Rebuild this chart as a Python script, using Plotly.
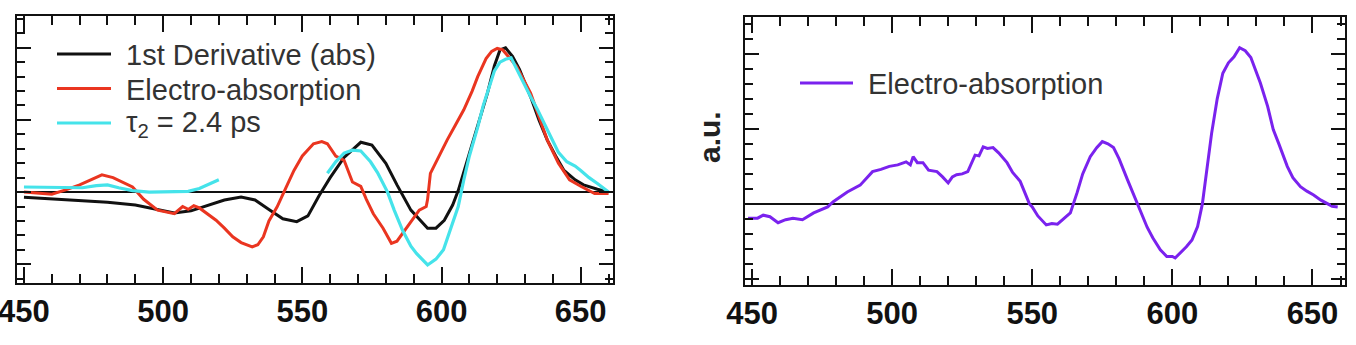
import plotly.graph_objects as go

# ---- data ----
deriv_x = [450, 460, 470, 480, 490, 497, 504, 510, 516, 522, 528, 533, 538, 543, 548, 552, 556, 560, 565, 571, 575,
           580, 584, 589, 595, 598, 601, 604, 606, 610, 613, 616.5, 619, 621, 623, 625.5, 628, 632, 635, 638, 641,
           644, 648, 651, 656, 660]
deriv_y = [-0.07, -0.09, -0.11, -0.14, -0.18, -0.24, -0.29, -0.26, -0.19, -0.11, -0.07, -0.11, -0.24, -0.37, -0.41,
           -0.33, -0.05, 0.2, 0.48, 0.69, 0.65, 0.4, 0.1, -0.25, -0.5, -0.5, -0.39, -0.18, 0.02, 0.54, 0.95, 1.37,
           1.75, 1.97, 2.0, 1.88, 1.7, 1.32, 1.0, 0.72, 0.5, 0.3, 0.17, 0.1, 0.04, 0.0]

ea_x = [450, 455, 460, 465, 470, 474, 478, 482, 486, 489, 493, 498, 504, 507, 509, 511, 513, 516, 519, 522, 525, 528,
        532, 534, 536, 538, 541, 544, 547, 550, 554, 557, 559, 562, 565, 568, 571, 573, 575.5, 579, 582, 584, 586,
        589, 592, 594.5, 595, 596, 599, 602, 605, 608, 611, 613, 616, 618, 620, 622, 624, 627, 632, 635, 638, 642,
        646, 650, 655, 660]
ea_y = [0.0, -0.02, -0.03, 0.03, 0.1, 0.17, 0.24, 0.2, 0.13, 0.07, -0.1, -0.25, -0.3, -0.2, -0.24, -0.19, -0.22,
        -0.3, -0.39, -0.5, -0.62, -0.7, -0.76, -0.73, -0.62, -0.4, -0.2, 0.05, 0.3, 0.5, 0.67, 0.7, 0.67, 0.5, 0.44,
        0.14, 0.08, -0.1, -0.3, -0.5, -0.71, -0.68, -0.57, -0.42, -0.25, -0.2, -0.1, 0.26, 0.5, 0.72, 0.93, 1.14,
        1.4, 1.6, 1.85, 1.95, 1.99, 1.97, 1.88, 1.74, 1.37, 1.05, 0.72, 0.4, 0.17, 0.08, -0.02, -0.02]

tau_x = [450, 455, 460, 465, 471, 476, 480, 484, 489, 495, 501, 505, 509, 513, 516, 520, None,
         559, 562, 565, 568, 571, 574.5, 577, 580.6, 583, 586, 589, 591, 595, 598, 600.7, 603, 606, 608, 610, 613,
         615, 617.6, 619, 621, 623, 625, 627, 629.5, 632, 634.5, 637, 640, 642, 645, 648, 650, 653, 656, 660]
tau_y = [0.07, 0.07, 0.06, 0.06, 0.06, 0.09, 0.1, 0.06, 0.02, 0.0, 0.0, 0.0, 0.01, 0.05, 0.1, 0.17, None,
         0.26, 0.42, 0.54, 0.58, 0.57, 0.42, 0.27, 0.0, -0.25, -0.53, -0.75, -0.85, -1.01, -0.93, -0.8, -0.55, -0.2,
         0.17, 0.5, 0.9, 1.2, 1.51, 1.68, 1.8, 1.84, 1.86, 1.7, 1.51, 1.32, 1.14, 0.95, 0.72, 0.55, 0.42, 0.36, 0.3,
         0.2, 0.12, 0.0]

ea2_x = [448.6, 452, 454, 456.4, 459.3, 462, 464.6, 468, 472, 477, 479, 484, 488.6, 493, 496, 499, 502, 505, 506.5,
         507.5, 509, 511, 513, 516, 518, 520, 521.5, 523, 525, 527, 529.6, 531, 532.5, 534, 536, 538, 541, 543,
         545.7, 549, 550, 552, 555, 557, 559, 561, 563.6, 566, 568, 570.7, 573, 575, 577, 579, 581, 584, 587.5,
         591, 593, 595.7, 598, 600, 601, 603, 605, 607, 609, 610.7, 612, 614, 616, 618, 620, 622, 624, 626, 628,
         629.5, 631.4, 634, 636, 638, 641, 643, 645.7, 648, 650.4, 653, 655.4, 657, 659]
ea2_y = [-0.19, -0.19, -0.15, -0.17, -0.25, -0.21, -0.19, -0.21, -0.12, -0.04, 0.03, 0.16, 0.25, 0.43, 0.46, 0.5,
         0.52, 0.56, 0.52, 0.63, 0.55, 0.55, 0.45, 0.43, 0.36, 0.28, 0.36, 0.39, 0.4, 0.43, 0.65, 0.64, 0.76, 0.74,
         0.75, 0.68, 0.55, 0.42, 0.3, 0.0, -0.04, -0.16, -0.28, -0.26, -0.27, -0.2, -0.12, 0.15, 0.4, 0.63, 0.75,
         0.83, 0.8, 0.75, 0.6, 0.32, 0.0, -0.31, -0.45, -0.61, -0.7, -0.7, -0.72, -0.65, -0.57, -0.48, -0.3, 0.0,
         0.4, 0.94, 1.4, 1.74, 1.88, 1.96, 2.08, 2.04, 1.95, 1.8, 1.61, 1.3, 0.99, 0.8, 0.5, 0.35, 0.23, 0.17, 0.12,
         0.05, 0.0, -0.03, -0.04]

x_ticks = [450, 500, 550, 600, 650]
legend_left = ["1st Derivative (abs)", "Electro-absorption", "τ<sub>2</sub> = 2.4 ps"]
legend_right = ["Electro-absorption"]

BLACK = "#111111"
RED = "#ea3520"
CYAN = "#45e3ea"
PURPLE = "#7a22ee"
FONT = "Liberation Sans, Arial, Helvetica"

W, H = 1356, 345

fig = go.Figure()
fig.add_trace(go.Scatter(x=deriv_x, y=deriv_y, mode="lines", line=dict(color=BLACK, width=3), xaxis="x", yaxis="y"))
fig.add_trace(go.Scatter(x=ea_x, y=ea_y, mode="lines", line=dict(color=RED, width=3), xaxis="x", yaxis="y"))
fig.add_trace(go.Scatter(x=tau_x, y=tau_y, mode="lines", line=dict(color=CYAN, width=3.2), connectgaps=False,
                         xaxis="x", yaxis="y"))
fig.add_trace(go.Scatter(x=ea2_x, y=ea2_y, mode="lines", line=dict(color=PURPLE, width=3), xaxis="x2", yaxis="y2"))

def xax(domain, anchor):
    return dict(domain=domain, anchor=anchor, range=[447.5, 661.6], tickvals=x_ticks, automargin=False,
                ticktext=[str(v) for v in x_ticks], ticks="inside", ticklen=16, tickwidth=2, tickcolor=BLACK,
                minor=dict(dtick=10, tick0=450, ticks="inside", ticklen=9, tickwidth=2, tickcolor=BLACK),
                showline=True, linewidth=2, linecolor=BLACK, mirror="ticks", showgrid=False, zeroline=False,
                ticklabelstandoff=0, ticklabeloverflow="allow",
                tickfont=dict(family=FONT, size=31, color=BLACK, weight="bold"))

def yax(domain, anchor, rng):
    return dict(domain=domain, anchor=anchor, range=rng, dtick=1, tick0=0, ticks="inside", ticklen=14,
                tickwidth=2, tickcolor=BLACK, showticklabels=False, automargin=False,
                minor=dict(dtick=0.2, tick0=0, ticks="inside", ticklen=8, tickwidth=2, tickcolor=BLACK),
                showline=True, linewidth=2, linecolor=BLACK, mirror="ticks", showgrid=False,
                zeroline=True, zerolinecolor=BLACK, zerolinewidth=2)

fig.update_layout(
    width=W, height=H, margin=dict(l=0, r=0, t=0, b=0, autoexpand=False),
    paper_bgcolor="white", plot_bgcolor="white", showlegend=False,
    xaxis=xax([17 / W, 613 / W], "y"),
    yaxis=yax([1 - 283 / H, 1 - 16 / H], "x", [-1.26, 2.44]),
    xaxis2=xax([745 / W, 1345 / W], "y2"),
    yaxis2=yax([1 - 285 / H, 1 - 17 / H], "x2", [-1.08, 2.49]),
)

# legends drawn as paper-positioned lines and text
shapes = []
annotations = []
for i, (lbl, col) in enumerate(zip(legend_left, [BLACK, RED, CYAN])):
    py = 54 + 34.5 * i
    shapes.append(dict(type="line", xref="paper", yref="paper", x0=57 / W, x1=111 / W, y0=1 - py / H,
                       y1=1 - py / H, line=dict(color=col, width=3)))
    annotations.append(dict(text=lbl, xref="paper", yref="paper", x=124 / W, y=1 - (py + 1) / H,
                            xanchor="left", yanchor="middle", showarrow=False,
                            font=dict(family=FONT, size=29, color="#333333")))
for i, (lbl, col) in enumerate(zip(legend_right, [PURPLE])):
    py = 83
    shapes.append(dict(type="line", xref="paper", yref="paper", x0=800 / W, x1=853 / W, y0=1 - py / H,
                       y1=1 - py / H, line=dict(color=col, width=3)))
    annotations.append(dict(text=lbl, xref="paper", yref="paper", x=866 / W, y=1 - (py + 1) / H,
                            xanchor="left", yanchor="middle", showarrow=False,
                            font=dict(family=FONT, size=29, color="#333333")))
annotations.append(dict(text="<b>a.u.</b>", xref="paper", yref="paper", x=709 / W, y=1 - 137 / H,
                        xanchor="center", yanchor="middle", textangle=-90, showarrow=False,
                        font=dict(family=FONT, size=30, color="#222222")))
fig.update_layout(shapes=shapes, annotations=annotations)

fig.write_html("out.html")
